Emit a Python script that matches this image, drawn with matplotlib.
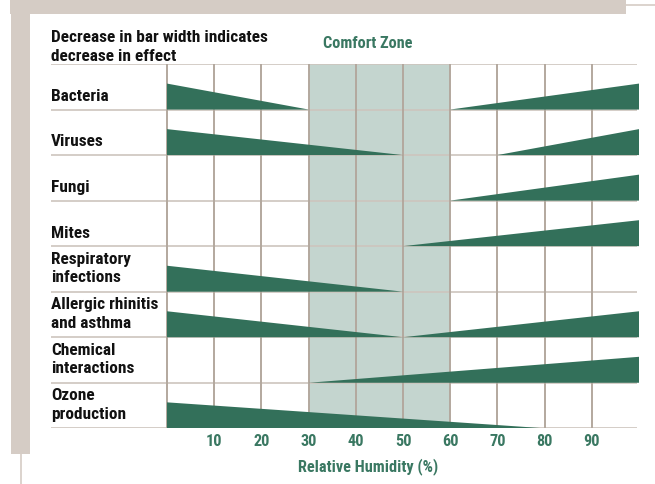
import matplotlib
matplotlib.use("Agg")
import matplotlib.pyplot as plt
from matplotlib import font_manager
from matplotlib.patches import Polygon, Rectangle
from matplotlib.lines import Line2D

# effects, top to bottom
effects = ["Bacteria", "Viruses", "Fungi", "Mites",
           "Respiratory\ninfections", "Allergic rhinitis\nand asthma",
           "Chemical\ninteractions", "Ozone\nproduction"]
# humidity where the falling bar (thick at 0 %) reaches zero, None = no bar
falls_to = [30, 50, None, None, 50, 50, None, 80]
# humidity where the rising bar (thick at 100 %) starts, None = no bar
rises_from = [60, 70, 60, 50, None, 50, 30, None]
comfort = (30, 60)
ticks = [10, 20, 30, 40, 50, 60, 70, 80, 90]

GREEN = "#33705a"
TEXT_GREEN = "#3a7862"
ZONE = "#c4d5cf"
VLINE = "#b3a89e"
HLINE = "#cdc5bd"
FRAME = "#d5ccc5"

# pick a condensed face if there is one
fonts = font_manager.fontManager.ttflist
names = {f.name for f in fonts}
FAM, STRETCH = None, "normal"
for c in ["Roboto Condensed", "Liberation Sans Narrow", "Open Sans Condensed",
          "Noto Sans Condensed", "DejaVu Sans Condensed"]:
    if c in names:
        FAM = c
        break
if FAM is None:
    for f in fonts:
        if f.name in ("Roboto", "Noto Sans", "Open Sans", "DejaVu Sans") and \
                f.stretch in ("condensed", "semi-condensed") and f.weight in (600, 700, "bold"):
            FAM, STRETCH = f.name, f.stretch
            break
if FAM is None:
    FAM = "Liberation Sans"
plt.rcParams['font.family'] = [FAM, 'DejaVu Sans']
plt.rcParams['font.stretch'] = STRETCH
plt.rcParams['font.weight'] = "bold"

W, H = 655, 485
fig = plt.figure(figsize=(W / 100, H / 100), dpi=100)
renderer = fig.canvas.get_renderer()


def fx(px):
    return px / W


def fy(py):
    return 1 - py / H


def fit_size(sample, width_px):
    t = fig.text(0, 0, sample, fontsize=10)
    w = t.get_window_extent(renderer).width
    t.remove()
    return 10 * width_px / w


FS = fit_size("Decrease in bar width indicates", 216)
TFS = fit_size("Comfort Zone", 89)

# background frame
fig.patches.append(Rectangle((fx(10), fy(15)), fx(616), 15 / H, transform=fig.transFigure,
                             color=FRAME, lw=0, zorder=0))
fig.patches.append(Rectangle((fx(11), fy(455)), fx(19), 455 / H, transform=fig.transFigure,
                             color=FRAME, lw=0, zorder=0))
fig.lines.append(Line2D([fx(626), fx(655)], [fy(6), fy(6)], transform=fig.transFigure,
                        color=FRAME, lw=1.2))
fig.lines.append(Line2D([fx(20.5), fx(20.5)], [fy(455), fy(485)], transform=fig.transFigure,
                        color=FRAME, lw=1.2))

# axes placed so that 0 % sits at px 167 and 100 % at px 639
x0px, scale = 167, 4.72
left_px, right_px, top_px, bot_px = 51, 641, 65, 429.3
ax = fig.add_axes([fx(left_px), fy(bot_px), fx(right_px - left_px), (bot_px - top_px) / H])
ax.set_xlim((left_px - x0px) / scale, (right_px - x0px) / scale)
n = len(effects)
ax.set_ylim(n, 0)
for s in ax.spines.values():
    s.set_visible(False)
ax.patch.set_alpha(0)

ax.axvspan(*comfort, color=ZONE, lw=0, zorder=1)
ax.hlines(range(n + 1), (left_px - x0px) / scale, 99.6, color=HLINE, lw=1.2, zorder=2)
ax.vlines([0] + ticks, 0, n, color=VLINE, lw=1.4, zorder=2)

hgt = 0.57
for i, (name, f, r) in enumerate(zip(effects, falls_to, rises_from)):
    base = i + 1
    if f is not None:
        ax.add_patch(Polygon([(0, base), (0, base - hgt), (f, base)], closed=True,
                             color=GREEN, lw=0, zorder=3))
    if r is not None:
        ax.add_patch(Polygon([(r, base), (100, base - hgt), (100, base)], closed=True,
                             color=GREEN, lw=0, zorder=3))
    frac = 0.47 if "\n" in name else 0.69
    ax.text((left_px - x0px) / scale, i + frac, name, ha="left", va="center",
            fontsize=FS, color="#111111", linespacing=1.3)

ax.set_yticks([])
ax.set_xticks(ticks)
ax.set_xticklabels([str(t) for t in ticks])
ax.tick_params(axis="x", length=0, pad=3.5, labelcolor=TEXT_GREEN, labelsize=TFS)

fig.text(fx(51), fy(47), "Decrease in bar width indicates\ndecrease in effect",
         ha="left", va="center", fontsize=FS, color="#111111", linespacing=1.35)
fig.text(fx(367.5), fy(44), "Comfort Zone", ha="center", va="center",
         fontsize=TFS, color=TEXT_GREEN)
fig.text(fx(368), fy(467), "Relative Humidity (%)", ha="center", va="center",
         fontsize=TFS, color=TEXT_GREEN)

fig.savefig("out.png", dpi=100)
